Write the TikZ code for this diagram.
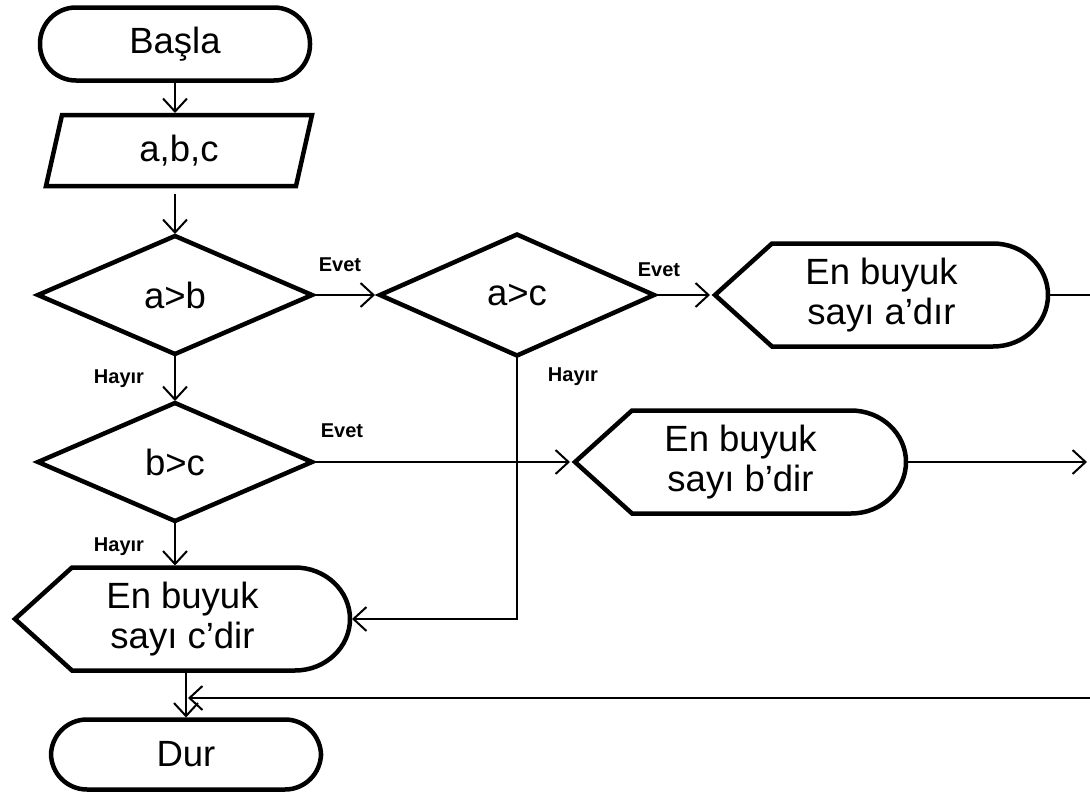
\documentclass[tikz,border=0pt]{standalone}
\usepackage{fontspec}
\setmainfont{Liberation Sans}
\usetikzlibrary{arrows.meta,shapes.geometric}

\tikzset{
  box/.style={line width=4.5pt, outer sep=0pt, inner sep=0pt,
    font=\fontsize{36.5}{40}\selectfont, align=center},
  term/.style={box, draw, rectangle, rounded corners=36pt,
    minimum width=270pt, minimum height=73pt},
  decide/.style={box, draw, diamond, minimum width=274pt, minimum height=118pt},
  plainbox/.style={box, rectangle, minimum height=103pt},
  outline/.style={line width=4.5pt, line join=miter},
  arr/.style={line width=2pt, -{Straight Barb[length=13pt,width=24pt]}, shorten >=2pt},
  tiparr/.style={arr, shorten >=5pt},
  link/.style={line width=2pt},
  tag/.style={font=\bfseries\fontsize{20}{23}\selectfont, inner sep=0pt},
}

% display symbol: pointed left end, rounded right end
\newcommand\dispoutline[1]{%
  \draw[outline] (#1.west) -- ([xshift=57pt]#1.north west)
    -- ([xshift=-55pt]#1.north east)
    arc[start angle=90, end angle=-90, x radius=55pt, y radius=51.5pt]
    -- ([xshift=57pt]#1.south west) -- cycle;}

\begin{document}
\begin{tikzpicture}[x=1pt, y=-1pt]
\useasboundingbox (0,0) rectangle (1090,795);

% start and input
\node[term] (start) at (175,44) {Başla};
\node[box, minimum width=266pt, minimum height=71pt] (inp) at (179,150.5) {a,b,c};
\draw[outline] ([xshift=16pt]inp.north west) -- (inp.north east)
  -- ([xshift=-16pt]inp.south east) -- (inp.south west) -- cycle;

% decisions
\node[decide] (ab) at (175,295) {a>b};
\node[decide, minimum height=121pt] (ac) at (517,295) {a>c};
\node[decide] (bc) at (175,462) {b>c};

% results
\node[plainbox, minimum width=333pt] (resa) at (881.5,295) {En buyuk\\sayı a’dır};
\dispoutline{resa}
\node[plainbox, minimum width=331pt] (resb) at (740.5,462) {En buyuk\\sayı b’dir};
\dispoutline{resb}
\node[plainbox, minimum width=335pt] (resc) at (182.5,619) {En buyuk\\sayı c’dir};
\dispoutline{resc}

% end
\node[term, minimum height=70pt] (stop) at (186,754.5) {Dur};

% branch labels
\node[tag] (e1) at (340,265) {Evet};
\node[tag] (e2) at (659,270) {Evet};
\node[tag] (h1) at (119,379) {Hayır};
\node[tag] (h2) at (573,377) {Hayır};
\node[tag] (e3) at (342,431) {Evet};
\node[tag] (h3) at (119,547) {Hayır};

% free ends at the right edge
\coordinate (aout) at (1090,295);
\coordinate (bout) at (1089,462);
\coordinate (cin) at (1090,698);

% connectors
\draw[arr] (start.south) -- (start.south |- inp.north);
\draw[arr, shorten <=8pt] (ab.north |- inp.south) -- (ab.north);
\draw[tiparr] (ab.east) -- (ac.west);
\draw[tiparr] (ac.east) -- (resa.west);
\draw[link] (resa.east) -- (aout);
\draw[arr] (ab.south) -- (bc.north);
\draw[tiparr] (bc.east) -- (resb.west);
\draw[arr] (resb.east) -- (bout);
\draw[arr] (bc.south) -- (bc.south |- resc.north);
\draw[arr] (ac.south) |- (resc.east);
\draw[arr] (resc.south -| stop.north) -- (stop.north);
\draw[arr] (cin) -- (cin -| stop.north);
\end{tikzpicture}
\end{document}
